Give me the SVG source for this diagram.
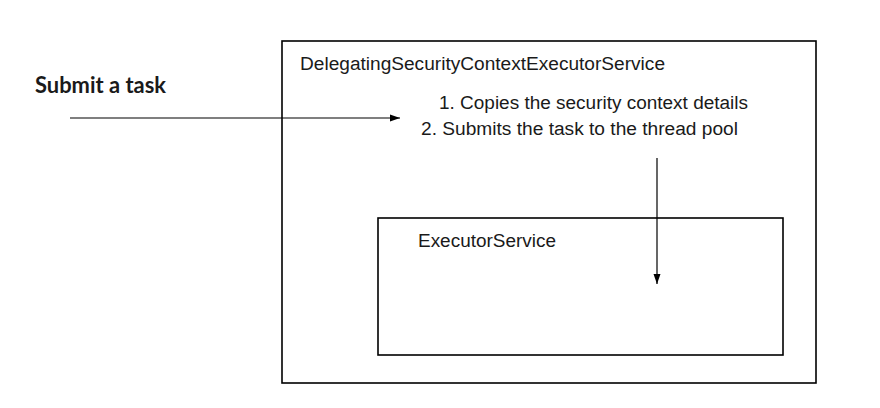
<svg xmlns="http://www.w3.org/2000/svg" width="880" height="408" viewBox="0 0 880 408">
<style>
.box{fill:none;stroke:#000;stroke-width:1.6}
.t{font-family:"Liberation Sans",Arial,sans-serif;font-size:18px;fill:#1a1a1a}
.b{font-family:Lato,"Open Sans",sans-serif;font-weight:bold;font-size:22px;fill:#1a1a1a}
.c{stroke:#000;stroke-width:1.2;fill:none}
</style>
<defs>
<marker id="ah" viewBox="0 0 10 10" refX="10" refY="5" markerWidth="10" markerHeight="10" markerUnits="userSpaceOnUse" orient="auto">
<path d="M0,1.5 L10,5 L0,8.5 z" fill="#000"/>
</marker>
</defs>
<rect width="880" height="408" fill="#fff"/>
<g id="outer">
<rect class="box" x="282" y="41" width="534" height="342"/>
<text class="t" x="300" y="70" textLength="365" lengthAdjust="spacingAndGlyphs">DelegatingSecurityContextExecutorService</text>
<text class="t" x="439" y="109" textLength="309" lengthAdjust="spacingAndGlyphs">1. Copies the security context details</text>
<text class="t" x="421" y="135" textLength="317" lengthAdjust="spacingAndGlyphs">2. Submits the task to the thread pool</text>
</g>
<g id="inner">
<rect class="box" x="378" y="218" width="405" height="137"/>
<text class="t" x="418" y="247" textLength="138" lengthAdjust="spacingAndGlyphs">ExecutorService</text>
</g>
<g id="label">
<text class="b" x="35" y="93" textLength="131" lengthAdjust="spacingAndGlyphs">Submit a task</text>
</g>
<g id="connectors">
<line class="c" x1="70" y1="118" x2="400" y2="118" marker-end="url(#ah)"/>
<line class="c" x1="657" y1="158" x2="657" y2="284" marker-end="url(#ah)"/>
</g>
</svg>
